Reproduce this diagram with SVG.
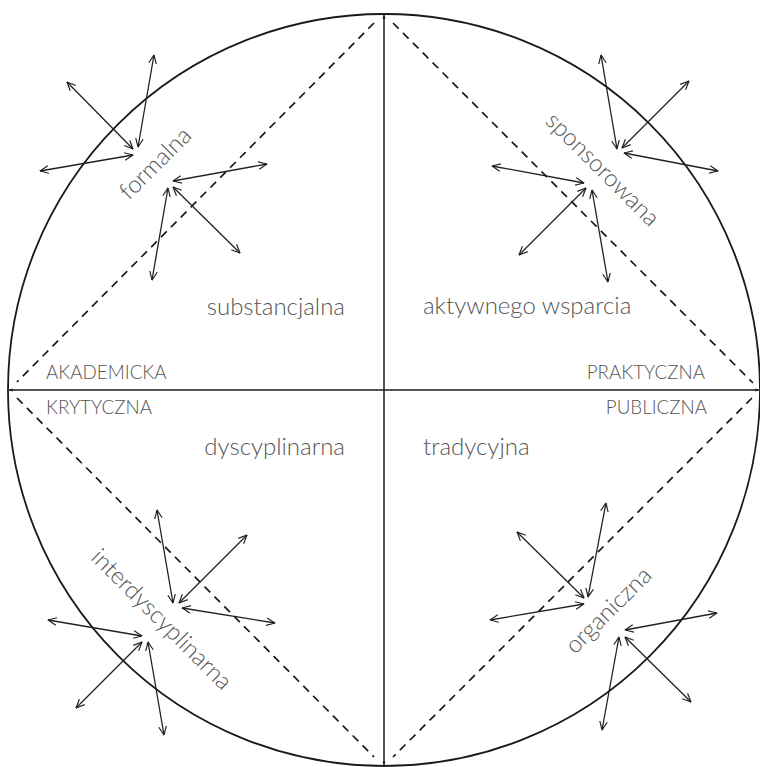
<svg xmlns="http://www.w3.org/2000/svg" width="760" height="767" viewBox="0 0 760 767">
<style>
.frame{fill:none;stroke:#1a1a1a;stroke-width:1.8}
.axis{fill:none;stroke:#1a1a1a;stroke-width:1.5}
.dash{fill:none;stroke:#1a1a1a;stroke-width:1.7;stroke-dasharray:8 6}
.arr{fill:none;stroke:#222;stroke-width:1.3;marker-start:url(#ah);marker-end:url(#ah)}
.lbl{font-family:Lato,"Open Sans","Liberation Sans",sans-serif;font-weight:300;fill:#555;font-size:24px}
.cap{font-family:Lato,"Open Sans","Liberation Sans",sans-serif;font-weight:300;fill:#555;font-size:18.8px}
</style>
<defs>
<marker id="ah" viewBox="0 0 10 10" refX="9.5" refY="5" markerUnits="userSpaceOnUse" markerWidth="9" markerHeight="9" orient="auto-start-reverse">
<path d="M0,0.8 L9.5,5 L0,9.2" fill="none" stroke="#222" stroke-width="1.3"/>
</marker>
<marker id="ax" viewBox="0 0 10 10" refX="9" refY="5" markerUnits="userSpaceOnUse" markerWidth="4" markerHeight="4" orient="auto-start-reverse">
<path d="M0,1 L9,5 L0,9 Z" fill="#1a1a1a"/>
</marker>
</defs>
<g id="frame">
<circle class="frame" cx="384" cy="390" r="376"/>
</g>
<g id="connectors">
<line class="axis" x1="384" y1="15" x2="384" y2="765" marker-start="url(#ax)" marker-end="url(#ax)"/>
<line class="axis" x1="9" y1="390" x2="759" y2="390" marker-start="url(#ax)" marker-end="url(#ax)"/>
<line class="dash" x1="374" y1="23" x2="17" y2="382"/>
<line class="dash" x1="393" y1="23" x2="753" y2="383"/>
<line class="dash" x1="17" y1="398" x2="374" y2="757"/>
<line class="dash" x1="752" y1="398" x2="393" y2="757"/>
<!-- formalna -->
<line class="arr" x1="67" y1="82" x2="133" y2="149"/>
<line class="arr" x1="154" y1="55" x2="138" y2="147"/>
<line class="arr" x1="40" y1="171" x2="133" y2="155"/>
<line class="arr" x1="173" y1="181" x2="267" y2="164"/>
<line class="arr" x1="168" y1="188" x2="152" y2="280"/>
<line class="arr" x1="173" y1="187" x2="240" y2="253"/>
<!-- sponsorowana -->
<line class="arr" x1="601" y1="55" x2="617" y2="149"/>
<line class="arr" x1="689" y1="81" x2="622" y2="148"/>
<line class="arr" x1="624" y1="153" x2="718" y2="171"/>
<line class="arr" x1="492" y1="166" x2="584" y2="183"/>
<line class="arr" x1="586" y1="188" x2="519" y2="255"/>
<line class="arr" x1="592" y1="190" x2="608" y2="282"/>
<!-- interdyscyplinarna -->
<line class="arr" x1="157" y1="510" x2="173" y2="603"/>
<line class="arr" x1="247" y1="535" x2="179" y2="603"/>
<line class="arr" x1="182" y1="608" x2="275" y2="623"/>
<line class="arr" x1="48" y1="620" x2="142" y2="636"/>
<line class="arr" x1="142" y1="642" x2="76" y2="708"/>
<line class="arr" x1="148" y1="642" x2="164" y2="735"/>
<!-- organiczna -->
<line class="arr" x1="517" y1="532" x2="584" y2="598"/>
<line class="arr" x1="606" y1="503" x2="588" y2="597"/>
<line class="arr" x1="490" y1="620" x2="584" y2="604"/>
<line class="arr" x1="625" y1="630" x2="717" y2="613"/>
<line class="arr" x1="619" y1="637" x2="602" y2="730"/>
<line class="arr" x1="625" y1="637" x2="691" y2="702"/>
</g>
<g id="labels">
<text id="substancjalna" class="lbl" x="345" y="315" text-anchor="end">substancjalna</text>
<text id="aktywnego" class="lbl" x="423" y="314">aktywnego wsparcia</text>
<text id="dyscyplinarna" class="lbl" x="345" y="455" text-anchor="end">dyscyplinarna</text>
<text id="tradycyjna" class="lbl" x="423" y="455">tradycyjna</text>
<text id="akademicka" class="cap" x="46" y="379">AKADEMICKA</text>
<text id="krytyczna" class="cap" x="46" y="414">KRYTYCZNA</text>
<text id="praktyczna" class="cap" x="705" y="379" text-anchor="end">PRAKTYCZNA</text>
<text id="publiczna" class="cap" x="707" y="414" text-anchor="end">PUBLICZNA</text>
<text id="formalna" class="lbl" text-anchor="middle" transform="translate(161,169) rotate(-45)">formalna</text>
<text id="sponsorowana" class="lbl" text-anchor="middle" transform="translate(597,175) rotate(45)">sponsorowana</text>
<text id="interdyscyplinarna" class="lbl" text-anchor="middle" transform="translate(156,625) rotate(45)">interdyscyplinarna</text>
<text id="organiczna" class="lbl" text-anchor="middle" transform="translate(614,616) rotate(-45)">organiczna</text>
</g>
</svg>
